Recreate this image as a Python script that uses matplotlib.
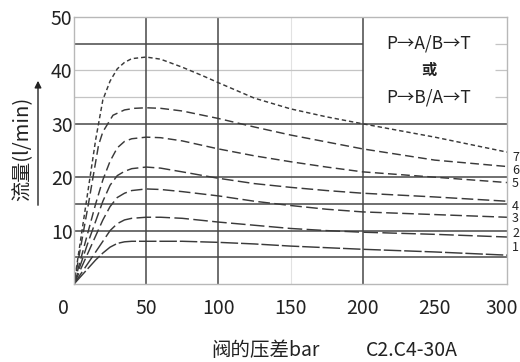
import matplotlib
matplotlib.use("Agg")
import matplotlib.pyplot as plt
from matplotlib.transforms import ScaledTranslation

plt.rcParams['font.family'] = ['Noto Sans CJK SC', 'DejaVu Sans']

# ---- data ----
x_c1 = [0, 10, 15, 20, 25, 30, 35, 40, 50, 75, 100, 125, 150, 175, 200, 250, 300]
y_c1 = [0, 3, 4.5, 5.8, 6.9, 7.6, 7.9, 8, 8, 8, 7.8, 7.5, 7.1, 6.8, 6.5, 6, 5.4]
x_c2 = [0, 10, 20, 25, 30, 35, 40, 50, 60, 75, 100, 125, 150, 175, 200, 250, 300]
y_c2 = [0, 4, 8, 10, 11.3, 12, 12.3, 12.5, 12.5, 12.3, 11.6, 11, 10.4, 10, 9.7, 9.3, 8.8]
x_c3 = [0, 10, 20, 25, 30, 35, 40, 50, 60, 75, 100, 125, 150, 175, 200, 250, 300]
y_c3 = [0, 6, 12, 14.5, 16.2, 17, 17.5, 17.8, 17.7, 17.3, 16.5, 15.5, 14.7, 14, 13.5, 13, 12.5]
x_c4 = [0, 10, 20, 25, 30, 35, 40, 50, 60, 75, 100, 125, 150, 175, 200, 250, 300]
y_c4 = [0, 8, 15.5, 18.5, 20.3, 21.1, 21.6, 21.9, 21.7, 21, 19.8, 18.8, 18.1, 17.5, 17, 16.3, 15.5]
x_c5 = [0, 10, 15, 20, 25, 30, 35, 40, 50, 60, 75, 100, 125, 150, 175, 200, 250, 300]
y_c5 = [0, 10, 15, 19.5, 23, 25.5, 26.7, 27.2, 27.5, 27.4, 26.8, 25.3, 24, 22.9, 21.9, 21, 20, 19]
x_c6 = [0, 10, 17, 20, 27, 35, 42, 50, 60, 75, 100, 125, 150, 175, 200, 250, 300]
y_c6 = [0, 15, 26, 28.5, 31.6, 32.6, 32.9, 33, 32.9, 32.4, 31, 29.4, 27.9, 26.6, 25.3, 23.2, 22]
x_c7 = [0, 5, 10, 15, 20, 25, 30, 35, 40, 50, 60, 75, 90, 100, 125, 150, 175, 200, 250, 300]
y_c7 = [0, 9, 18, 27, 34.5, 38, 40.3, 41.5, 42.2, 42.5, 42.1, 40.6, 38.9, 37.7, 34.8, 32.8, 31.3, 30, 27.5, 24.7]

curve_labels = ['1', '2', '3', '4', '5', '6', '7']
label_y = [6.9, 9.4, 12.2, 14.6, 18.9, 21.2, 23.6]

x_ticks = [50, 100, 150, 200, 250, 300]
y_ticks = [10, 20, 30, 40, 50]

fig = plt.figure(figsize=(5.2, 3.62), dpi=100)
ax = fig.add_axes([74/520, 78/362, 433/520, 267/362])
ax.set_xlim(0, 300)
ax.set_ylim(0, 50)

dark = '#484848'
light = '#c4c4c4'
for s in ax.spines.values():
    s.set_color('#b8b8b8')
    s.set_linewidth(1.0)

# grid
for xv in [50, 100, 200]:
    ax.axvline(xv, color=dark, lw=1.1, zorder=1)
ax.axvline(150, color='#e2e2e2', lw=0.8, zorder=0.5)
for yv in [30, 20, 15, 10, 5]:
    ax.axhline(yv, color=dark, lw=1.1, zorder=1)
ax.hlines([45], 0, 200, color=dark, lw=1.1, zorder=1)
ax.hlines([40, 35], 0, 200, color=light, lw=0.9, zorder=0.8)
ax.hlines([45, 40, 35], 292, 300, color=light, lw=0.9, zorder=0.8)

# curves
styles = [(0, (12, 2)), (0, (10, 3)), (0, (8, 3)), (0, (8, 3)),
          (0, (6, 3)), (0, (6, 3)), (0, (3, 2))]
xs = [x_c1, x_c2, x_c3, x_c4, x_c5, x_c6, x_c7]
ys = [y_c1, y_c2, y_c3, y_c4, y_c5, y_c6, y_c7]
for xx, yy, ls in zip(xs, ys, styles):
    ax.plot(xx, yy, color='#3a3a3a', lw=1.05, ls=ls, zorder=2)

for lab, yv in zip(curve_labels, label_y):
    ax.text(303.5, yv, lab, fontsize=9, ha='left', va='center',
            clip_on=False, color='#222')

# ticks
ax.set_xticks(x_ticks)
ax.set_yticks(y_ticks)
ax.tick_params(length=0, labelsize=14, colors='#222')
ax.tick_params(axis='x', pad=10)
ax.tick_params(axis='y', pad=1)
last = ax.get_xticklabels()[-1]
last.set_transform(last.get_transform() + ScaledTranslation(-5/100, 0, fig.dpi_scale_trans))
ax.text(-7, -0.052, '0', transform=ax.get_xaxis_transform(), fontsize=14,
        ha='center', va='top', color='#222')

# text box
ax.text(246, 45, 'P→A/B→T', fontsize=12.5, ha='center', va='center', color='#222')
ax.text(246, 40, '或', fontsize=11, ha='center', va='center', color='#222',
        fontweight='bold')
ax.text(246, 35, 'P→B/A→T', fontsize=12.5, ha='center', va='center', color='#222')

# y label with arrow
fig.text(23/520, 1 - 149/362, '流量(l/min)', rotation=90, fontsize=14.5,
         ha='center', va='center', color='#222')
fig.add_artist(matplotlib.patches.FancyArrowPatch(
    (38/520, 1 - 208/362), (38/520, 1 - 78/362), transform=fig.transFigure,
    arrowstyle='-|>', mutation_scale=10, color='#222', lw=1.0))

# x label
fig.text(265/520, 1 - 350/362, '阀的压差bar', fontsize=14, ha='center',
         va='center', color='#222')
fig.text(412/520, 1 - 350/362, 'C2.C4-30A', fontsize=14, ha='center',
         va='center', color='#222')

fig.savefig('out.png', dpi=100)
